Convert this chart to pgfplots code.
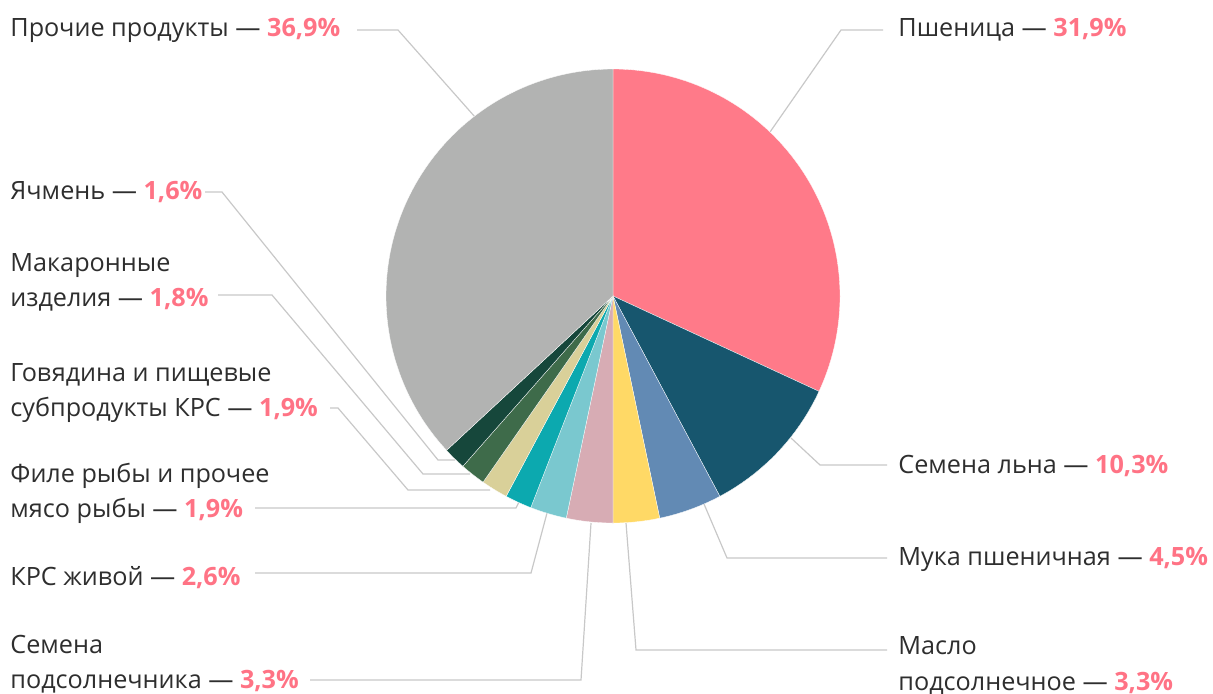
\documentclass[border=0pt]{standalone}
\usepackage{pgfplots}
\pgfplotsset{compat=1.18}
\usepackage{fontspec}
\setmainfont{Open Sans}
\definecolor{cWheat}{HTML}{FF7A89}
\definecolor{cFlax}{HTML}{17566E}
\definecolor{cFlour}{HTML}{628AB4}
\definecolor{cOil}{HTML}{FFD966}
\definecolor{cSun}{HTML}{D7ACB4}
\definecolor{cCattle}{HTML}{7AC8CF}
\definecolor{cFish}{HTML}{0CA9AF}
\definecolor{cBeef}{HTML}{D9D099}
\definecolor{cPasta}{HTML}{3E6B4A}
\definecolor{cBarley}{HTML}{16473B}
\definecolor{cOther}{HTML}{B2B3B2}
\definecolor{cPct}{HTML}{FF7385}
\definecolor{cTxt}{HTML}{2E2E2E}
\definecolor{cLine}{HTML}{C8C8C8}
% slice: colour, cumulative share before it (%), share (%)
\newcommand\slice[3]{%
  \pgfmathsetmacro\aS{90-3.6*(#2+#3)}%
  \pgfmathsetmacro\aE{90-3.6*(#2)}%
  \edef\doslice{\noexpand\addplot[fill=#1, draw=white, line width=0.15pt, domain=\aS:\aE, samples=80, variable=\noexpand\t] ({613+227*cos(\noexpand\t)},{397+227*sin(\noexpand\t)}) -- (axis cs:613,397) -- cycle;}%
  \doslice
}
\newcommand\lab[4]{% x, y(baseline), text, pct
  \node[anchor=base west, inner sep=0pt, text=cTxt, font=\fontsize{12.6}{14}\selectfont] at (axis cs:#1,#2) {#3\ifx&#4&\else\ —\ \textcolor{cPct}{\bfseries #4}\fi};
}
\begin{document}
\begin{tikzpicture}
\begin{axis}[scale only axis, width=606.5pt, height=346.5pt,
  xmin=0, xmax=1213, ymin=0, ymax=693, hide axis, clip=false]
% leader lines
\addplot[draw=cLine, line width=0.6pt] coordinates {(475,576) (398,663) (357,663)};
\addplot[draw=cLine, line width=0.6pt] coordinates {(770,561) (841,663) (883,663)};
\addplot[draw=cLine, line width=0.6pt] coordinates {(791,255) (820,228) (887,228)};
\addplot[draw=cLine, line width=0.6pt] coordinates {(704,189) (727,135) (887,135)};
\addplot[draw=cLine, line width=0.6pt] coordinates {(626,170) (636,43) (887,43)};
\addplot[draw=cLine, line width=0.6pt] coordinates {(591,170) (581,13) (310,13)};
\addplot[draw=cLine, line width=0.6pt] coordinates {(547,180) (531,120) (255,120)};
\addplot[draw=cLine, line width=0.6pt] coordinates {(521,195) (516,185) (255,185)};
\addplot[draw=cLine, line width=0.6pt] coordinates {(490,203) (408,203) (338,285) (330,285)};
\addplot[draw=cLine, line width=0.6pt] coordinates {(470,219) (423,219) (272,398) (218,398)};
\addplot[draw=cLine, line width=0.6pt] coordinates {(455,233) (438,233) (222,501) (205,501)};
% pie slices (shares in %)
\slice{cWheat}{0}{31.9}
\slice{cFlax}{31.9}{10.3}
\slice{cFlour}{42.2}{4.5}
\slice{cOil}{46.7}{3.3}
\slice{cSun}{50.0}{3.3}
\slice{cCattle}{53.3}{2.6}
\slice{cFish}{55.9}{1.9}
\slice{cBeef}{57.8}{1.9}
\slice{cPasta}{59.7}{1.8}
\slice{cBarley}{61.5}{1.6}
\slice{cOther}{63.1}{36.9}
% labels
\lab{10}{657}{Прочие продукты}{36,9\%}
\lab{10}{494}{Ячмень}{1,6\%}
\lab{10}{422}{Макаронные}{}
\lab{10}{387}{изделия}{1,8\%}
\lab{10}{312}{Говядина и пищевые}{}
\lab{10}{277}{субпродукты КРС}{1,9\%}
\lab{10}{211}{Филе рыбы и прочее}{}
\lab{10}{176}{мясо рыбы}{1,9\%}
\lab{10}{108}{КРС живой}{2,6\%}
\lab{10}{40}{Семена}{}
\lab{10}{5}{подсолнечника}{3,3\%}
\lab{898}{657}{Пшеница}{31,9\%}
\lab{898}{220}{Семена льна}{10,3\%}
\lab{898}{128}{Мука пшеничная}{4,5\%}
\lab{898}{39}{Масло}{}
\lab{898}{3}{подсолнечное}{3,3\%}
\end{axis}
\pgfresetboundingbox
\path (current axis.south west) rectangle (current axis.north east);
\end{tikzpicture}
\end{document}
